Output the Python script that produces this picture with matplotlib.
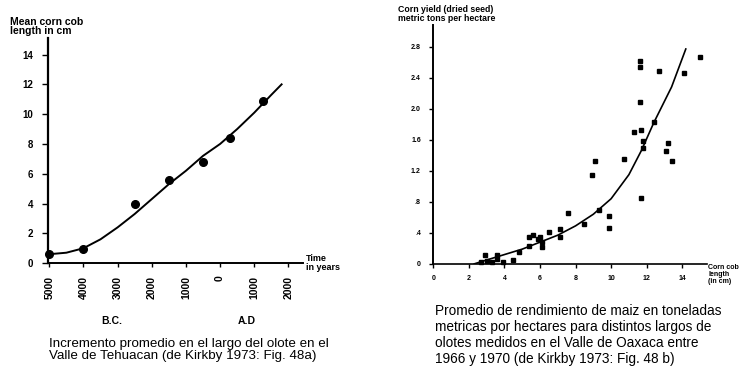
import matplotlib
matplotlib.use("Agg")
import matplotlib.pyplot as plt
import numpy as np

plt.rcParams['font.family'] = ['Liberation Sans', 'DejaVu Sans']

# left panel: mean corn cob length, Tehuacan valley
years = [-5000, -4000, -2500, -1500, -500, 300, 1250]
cob_length = [0.6, 0.95, 4.0, 5.6, 6.8, 8.4, 10.9]
curve_years = [-5000, -4500, -4000, -3500, -3000, -2500, -2000, -1500, -1000, -500, 0, 500, 1000, 1500, 1800]
curve_length = [0.6, 0.7, 1.0, 1.6, 2.4, 3.3, 4.3, 5.3, 6.2, 7.2, 8.0, 9.0, 10.1, 11.3, 12.0]
year_ticks = [-5000, -4000, -3000, -2000, -1000, 0, 1000, 2000]
year_labels = ["5000", "4000", "3000", "2000", "1000", "0", "1000", "2000"]
length_ticks = [0, 2, 4, 6, 8, 10, 12, 14]

# right panel: yield against cob length, Oaxaca valley
cob_cm = [2.7, 2.9, 3.0, 3.3, 3.6, 3.6, 3.9, 4.5, 4.8, 5.4, 5.4, 5.6, 5.9, 6.0, 6.1, 6.1,
          6.5, 7.1, 7.1, 7.6, 8.5, 8.9, 9.1, 9.3, 9.9, 9.9, 10.7, 11.3, 11.6, 11.6, 11.6,
          11.7, 11.7, 11.8, 11.8, 12.4, 12.7, 13.1, 13.2, 13.4, 14.1, 15.0]
yield_t = [0.02, 0.12, 0.04, 0.02, 0.12, 0.06, 0.03, 0.05, 0.15, 0.34, 0.23, 0.37, 0.32, 0.34,
           0.28, 0.22, 0.41, 0.45, 0.34, 0.66, 0.52, 1.14, 1.32, 0.70, 0.62, 0.46, 1.35, 1.70,
           2.62, 2.54, 2.09, 1.72, 0.85, 1.59, 1.50, 1.83, 2.49, 1.45, 1.56, 1.33, 2.46, 2.67]
fit_cm = [2.3, 3.0, 4.0, 5.0, 6.0, 7.0, 8.0, 9.0, 10.0, 11.0, 11.7, 12.4, 13.4, 14.2]
fit_yield = [0.0, 0.05, 0.12, 0.19, 0.28, 0.37, 0.49, 0.64, 0.84, 1.15, 1.46, 1.82, 2.28, 2.77]
cm_ticks = [0, 2, 4, 6, 8, 10, 12, 14]
yield_ticks = [0, 0.4, 0.8, 1.2, 1.6, 2.0, 2.4, 2.8]
yield_labels = ["0", ".4", ".8", "1.2", "1.6", "2.0", "2.4", "2.8"]

fig = plt.figure(figsize=(7.42, 3.67), dpi=100)

ax1 = fig.add_axes([0.065, 0.283, 0.344, 0.613])
ax1.plot(curve_years, curve_length, color='black', lw=1.4)
ax1.plot(years, cob_length, 'o', color='black', ms=5.5, clip_on=False)
ax1.set_xlim(-5030, 2440)
ax1.set_ylim(0, 15.1)
ax1.set_xticks(year_ticks)
ax1.set_xticklabels(year_labels, rotation=90, fontsize=7.5, fontweight='bold')
ax1.set_yticks(length_ticks)
ax1.set_yticklabels([str(t) for t in length_ticks], fontsize=7, fontweight='bold')
ax1.tick_params(axis='y', length=4, width=1, pad=7)
ax1.tick_params(axis='x', length=3, width=1, pad=6)
for s in ['top', 'right']:
    ax1.spines[s].set_visible(False)
ax1.spines['left'].set_linewidth(1.6)
ax1.spines['bottom'].set_linewidth(1.4)
fig.text(0.013, 0.955, "Mean corn cob\nlength in cm", fontsize=7.5,
         fontweight='bold', va='top', ha='left', linespacing=0.95)
ax1.text(1.01, 0.0, "Time\nin years", transform=ax1.transAxes, fontsize=6.5,
         fontweight='bold', va='center', ha='left', linespacing=1.0)
fig.text(0.151, 0.125, "B.C.", fontsize=7.5, fontweight='bold', ha='center', va='center')
fig.text(0.333, 0.125, "A.D", fontsize=7.5, fontweight='bold', ha='center', va='center')
fig.text(0.066, 0.046, "Incremento promedio en el largo del olote en el\n"
         "Valle de Tehuacan (de Kirkby 1973: Fig. 48a)", fontsize=9.6,
         ha='left', va='center', linespacing=1.0)

ax2 = fig.add_axes([0.584, 0.281, 0.369, 0.651])
ax2.plot(fit_cm, fit_yield, color='black', lw=1.2)
ax2.plot(cob_cm, yield_t, 's', color='black', ms=3.2, clip_on=False)
ax2.set_xlim(0, 15.4)
ax2.set_ylim(0, 3.08)
ax2.set_xticks(cm_ticks)
ax2.set_xticklabels([str(t) for t in cm_ticks], fontsize=5, fontweight='bold')
ax2.set_yticks(yield_ticks)
ax2.set_yticklabels(yield_labels, fontsize=5, fontweight='bold')
ax2.tick_params(axis='y', length=3, width=1, pad=6)
ax2.tick_params(axis='x', length=3, width=1, pad=5)
for s in ['top', 'right']:
    ax2.spines[s].set_visible(False)
ax2.spines['left'].set_linewidth(1.4)
ax2.spines['bottom'].set_linewidth(1.2)
fig.text(0.537, 0.986, "Corn yield (dried seed)\nmetric tons per hectare",
         fontsize=6.3, fontweight='bold', va='top', ha='left', linespacing=0.95)
ax2.text(1.005, 0.0, "Corn cob\nlength\n(in cm)", transform=ax2.transAxes,
         fontsize=5, fontweight='bold', va='top', ha='left', linespacing=1.0)
fig.text(0.586, 0.086, "Promedio de rendimiento de maiz en toneladas\n"
         "metricas por hectares para distintos largos de\n"
         "olotes medidos en el Valle de Oaxaca entre\n"
         "1966 y 1970 (de Kirkby 1973: Fig. 48 b)", fontsize=9.8,
         ha='left', va='center', linespacing=1.18)

fig.savefig("out.png", dpi=100)
